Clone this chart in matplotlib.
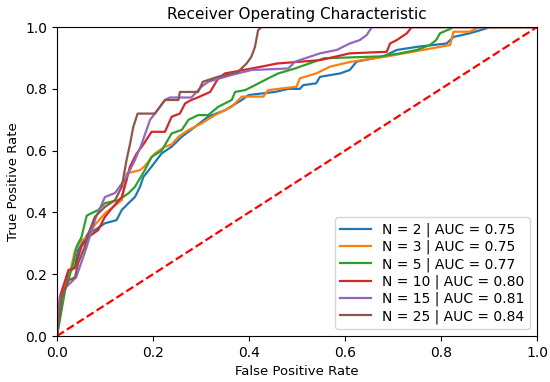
import matplotlib
matplotlib.use("Agg")
import matplotlib.pyplot as plt

# ROC vertices (fpr, tpr)
labels = ["N = 2 | AUC = 0.75", "N = 3 | AUC = 0.75", "N = 5 | AUC = 0.77",
          "N = 10 | AUC = 0.80", "N = 15 | AUC = 0.81", "N = 25 | AUC = 0.84"]

fpr_n2 = [0, 0.006, 0.024, 0.0375, 0.044, 0.065, 0.079, 0.1, 0.124, 0.135, 0.149, 0.1625,
          0.173, 0.18, 0.197, 0.218, 0.239, 0.26, 0.2875, 0.315, 0.35, 0.385, 0.399, 0.454,
          0.482, 0.506, 0.513, 0.54, 0.548, 0.59, 0.61, 0.624, 0.68, 0.708, 0.75, 0.812,
          0.826, 0.86, 0.895, 0.9, 1.0]
tpr_n2 = [0, 0.107, 0.203, 0.224, 0.278, 0.332, 0.343, 0.365, 0.375, 0.408, 0.43, 0.45,
          0.483, 0.515, 0.548, 0.591, 0.613, 0.645, 0.677, 0.71, 0.731, 0.764, 0.78, 0.79,
          0.80, 0.80, 0.812, 0.818, 0.839, 0.85, 0.861, 0.888, 0.905, 0.926, 0.936, 0.947,
          0.968, 0.98, 0.996, 1.0, 1.0]

fpr_n3 = [0, 0.006, 0.013, 0.024, 0.0375, 0.051, 0.065, 0.079, 0.1, 0.135, 0.145, 0.173,
          0.183, 0.204, 0.225, 0.239, 0.253, 0.274, 0.301, 0.329, 0.364, 0.385, 0.43, 0.44,
          0.499, 0.506, 0.54, 0.569, 0.61, 0.687, 0.777, 0.819, 0.826, 0.86, 0.874, 0.88, 1.0]
tpr_n3 = [0, 0.107, 0.16, 0.18, 0.278, 0.31, 0.32, 0.36, 0.397, 0.44, 0.526, 0.537,
          0.55, 0.591, 0.613, 0.62, 0.645, 0.667, 0.688, 0.715, 0.742, 0.775, 0.775, 0.796,
          0.807, 0.834, 0.85, 0.872, 0.887, 0.905, 0.93, 0.942, 0.985, 0.985, 0.996, 1.0, 1.0]

fpr_n5 = [0, 0.006, 0.017, 0.034, 0.041, 0.051, 0.062, 0.086, 0.1, 0.128, 0.149, 0.1625,
          0.183, 0.197, 0.218, 0.239, 0.26, 0.274, 0.294, 0.315, 0.336, 0.35, 0.364, 0.371,
          0.392, 0.4125, 0.44, 0.461, 0.496, 0.556, 0.673, 0.715, 0.75, 0.777, 0.79, 0.798,
          0.822, 0.823, 1.0]
tpr_n5 = [0, 0.052, 0.149, 0.235, 0.29, 0.32, 0.39, 0.408, 0.43, 0.44, 0.462, 0.483,
          0.537, 0.58, 0.60, 0.656, 0.667, 0.70, 0.715, 0.715, 0.742, 0.753, 0.764, 0.79,
          0.796, 0.812, 0.834, 0.85, 0.866, 0.899, 0.905, 0.915, 0.926, 0.942, 0.958, 0.98,
          0.996, 1.0, 1.0]

fpr_n10 = [0, 0.006, 0.024, 0.0375, 0.051, 0.065, 0.086, 0.1, 0.117, 0.135, 0.145, 0.152,
           0.166, 0.18, 0.197, 0.225, 0.239, 0.256, 0.267, 0.28, 0.29, 0.319, 0.336, 0.35,
           0.378, 0.426, 0.458, 0.548, 0.61, 0.687, 0.694, 0.708, 0.729, 0.739, 1.0]
tpr_n10 = [0, 0.127, 0.214, 0.22, 0.29, 0.32, 0.343, 0.386, 0.418, 0.45, 0.505, 0.548,
           0.591, 0.62, 0.661, 0.661, 0.71, 0.72, 0.753, 0.764, 0.77, 0.79, 0.834, 0.85,
           0.858, 0.872, 0.882, 0.893, 0.915, 0.92, 0.947, 0.958, 0.98, 1.0, 1.0]

fpr_n15 = [0, 0.006, 0.02, 0.04, 0.06, 0.08, 0.1, 0.121, 0.145, 0.1625, 0.176, 0.194,
           0.204, 0.225, 0.235, 0.28, 0.301, 0.315, 0.364, 0.405, 0.482, 0.496, 0.548,
           0.583, 0.61, 0.631, 0.645, 0.656, 1.0]
tpr_n15 = [0, 0.12, 0.16, 0.19, 0.28, 0.38, 0.45, 0.463, 0.515, 0.57, 0.62, 0.70,
           0.72, 0.764, 0.772, 0.772, 0.807, 0.823, 0.845, 0.861, 0.866, 0.888, 0.915,
           0.926, 0.947, 0.958, 0.974, 1.0, 1.0]

fpr_n25 = [0, 0.01, 0.024, 0.0375, 0.044, 0.058, 0.065, 0.079, 0.1, 0.121, 0.135, 0.145,
           0.152, 0.159, 0.168, 0.204, 0.225, 0.253, 0.256, 0.294, 0.304, 0.335, 0.377,
           0.395, 0.405, 0.4125, 0.419, 0.426, 1.0]
tpr_n25 = [0, 0.127, 0.18, 0.19, 0.235, 0.29, 0.33, 0.386, 0.418, 0.44, 0.483, 0.57,
           0.62, 0.677, 0.72, 0.72, 0.764, 0.764, 0.79, 0.79, 0.823, 0.839, 0.855,
           0.882, 0.904, 0.936, 0.99, 1.0, 1.0]

curves = [(fpr_n2, tpr_n2), (fpr_n3, tpr_n3), (fpr_n5, tpr_n5),
          (fpr_n10, tpr_n10), (fpr_n15, tpr_n15), (fpr_n25, tpr_n25)]

fig = plt.figure(figsize=(5.5, 3.82), dpi=100)
ax = fig.add_axes([0.1036, 0.1204, 0.8727, 0.8087])

for (fpr, tpr), lab in zip(curves, labels):
    ax.plot(fpr, tpr, lw=1.6, label=lab)

ax.plot([0, 1], [0, 1], "r--", lw=1.6)
ax.set_xlim(0, 1)
ax.set_ylim(0, 1)
ax.set_title("Receiver Operating Characteristic", fontsize=11)
ax.set_xlabel("False Positive Rate", fontsize=9.5)
ax.set_ylabel("True Positive Rate", fontsize=9.5)
ax.tick_params(labelsize=10)
ax.legend(loc="lower right", fontsize=10, labelspacing=0.2, handlelength=2.2,
          borderaxespad=0.5)

fig.savefig("out.png", dpi=100)
